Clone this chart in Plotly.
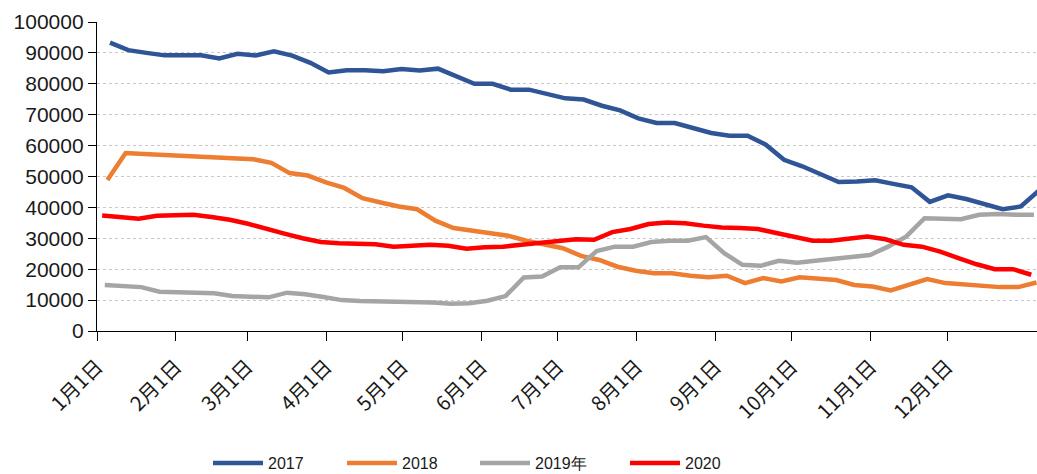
import plotly.graph_objects as go

# ---- data (values in tonnes) ----
series_names = ["2017", "2018", "2019年", "2020"]
series_colors = ["#2F5597", "#ED7D31", "#A5A5A5", "#FF0000"]
# day-of-year (0 = Jan 1) of the first weekly observation of each series
first_day = [5, 4, 3, 2]

v2017 = [93300, 90900, 90000, 89200, 89200, 89200, 88200, 89700, 89200, 90500,
         89100, 86800, 83700, 84400, 84400, 84100, 84800, 84300, 84900, 82400,
         80000, 80000, 78100, 78100, 76800, 75300, 74900, 72900, 71400, 68800,
         67300, 67300, 65700, 64100, 63200, 63200, 60300, 55400, 53300, 50900,
         48200, 48400, 48800, 47600, 46500, 41800, 43900, 42700, 41200, 39400,
         40300, 45500]
v2018 = [48900, 57600, 57300, 57000, 56500, 56400, 56200, 55900, 55600, 54400,
         51100, 50300, 48100, 46300, 43000, 41600, 40300, 39400, 35700, 33300,
         32500, 31400, 30800, 29200, 27900, 26800, 24300, 23000, 20800, 19500,
         18700, 18700, 17900, 17400, 17900, 15500, 17100, 16000, 17400, 16900,
         16500, 14900, 14400, 13100, 14900, 16800, 15500, 15100, 14700, 14200,
         14200, 15700]
v2019 = [14900, 14600, 14200, 12700, 12700, 12400, 12200, 11300, 11100, 10900,
         12400, 11900, 11000, 10000, 9700, 9600, 9500, 9500, 9200, 8800,
         9000, 9800, 11300, 17300, 17600, 20600, 20600, 25900, 27300, 27300,
         28800, 29200, 29200, 30400, 25200, 21400, 21100, 22700, 22100, 22700,
         23400, 24000, 24600, 27300, 30600, 36500, 36500, 36200, 37600, 37900,
         37600, 37600]
v2020 = [37400, 36900, 36300, 37300, 37400, 37600, 36900, 36000, 34700, 33000,
         31500, 30000, 28800, 28400, 28200, 28100, 27300, 27600, 27900, 27600,
         26600, 27100, 27300, 27900, 28600, 29300, 29700, 29500, 32000, 33000,
         34600, 35100, 34900, 34100, 33500, 33300, 33000, 31700, 30400, 29200,
         29200, 30000, 30600, 29700, 27900, 27300, 25700, 23600, 21600, 20000,
         20000, 18200]
series_values = [v2017, v2018, v2019, v2020]

months = list(range(1, 13))
month_start_doy = [0, 31, 59, 90, 120, 151, 181, 212, 243, 273, 304, 334]
tick_labels = [f"{m}月1日" for m in months]
y_ticks = list(range(0, 100001, 10000))

# ---- figure ----
W, H = 1037, 474
ML, MR, MT, MB = 97, 0, 22, 143
legend_ids = ["legend", "legend2", "legend3", "legend4"]
legend_left_px = [208, 342, 475, 625]   # left edge of each legend entry

fig = go.Figure()
for name, color, d0, vals, lid in zip(series_names, series_colors, first_day,
                                      series_values, legend_ids):
    xs = [d0 + 7 * i for i in range(len(vals))]
    fig.add_trace(go.Scatter(
        x=xs, y=vals, name=name, mode="lines", legend=lid,
        line=dict(color=color, width=4.5),
    ))

legend_font = dict(size=16, family="Liberation Sans, Arial, sans-serif", color="#1a1a1a")
legend_y = -(463 - (H - MB)) / (H - MT - MB)
legends = {}
for lid, lx in zip(legend_ids, legend_left_px):
    legends[lid] = dict(
        orientation="h", x=(lx - ML) / (W - ML - MR), xanchor="left",
        y=legend_y, yanchor="middle", font=legend_font, itemwidth=50,
        bgcolor="rgba(0,0,0,0)",
    )

# the source axis spreads the month ticks over 51 weekly steps per year
tick_pos = [d * 357 / 365 for d in month_start_doy]

fig.update_layout(
    width=W, height=H,
    margin=dict(l=ML, r=MR, t=MT, b=MB, autoexpand=False),
    paper_bgcolor="white", plot_bgcolor="white",
    font=dict(family="Liberation Sans, Arial, sans-serif", color="#1a1a1a"),
    showlegend=True,
    **legends,
)
fig.update_xaxes(
    range=[0, 361.2], tickmode="array", tickvals=tick_pos, ticktext=tick_labels,
    tickangle=-45, ticks="outside", ticklen=9, tickwidth=1.3, tickcolor="black",
    ticklabelstandoff=6, automargin=False,
    showline=True, linecolor="black", linewidth=1.3, showgrid=False, zeroline=False,
    tickfont=dict(size=20, family="Noto Sans CJK SC, sans-serif", color="#1a1a1a"),
)
fig.update_yaxes(
    range=[0, 100000], tickmode="array", tickvals=y_ticks,
    ticktext=[str(v) for v in y_ticks], automargin=False,
    ticks="outside", ticklen=8, tickwidth=1.3, tickcolor="black",
    showline=True, linecolor="black", linewidth=1.3,
    showgrid=True, gridcolor="#c8c8c8", griddash="dot", gridwidth=1,
    zeroline=False,
    tickfont=dict(size=21, family="Liberation Sans, Arial, sans-serif", color="#1a1a1a"),
)

fig.write_html(
    "out.html",
    config={"displayModeBar": False},
    post_script="document.body.style.margin='0';document.body.style.padding='0';",
)
